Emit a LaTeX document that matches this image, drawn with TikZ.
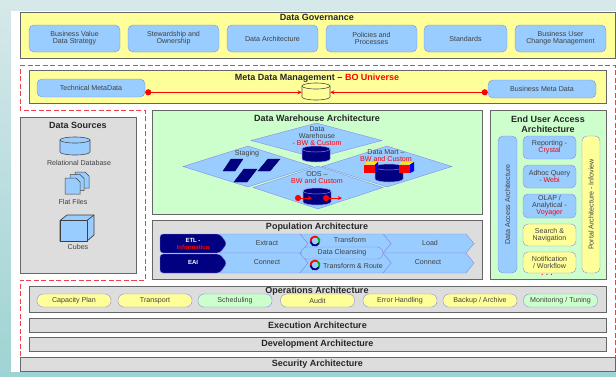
\documentclass[tikz,border=0pt]{standalone}
\usepackage{fontspec}
\setmainfont{Liberation Sans}
\usetikzlibrary{positioning, shapes, arrows}
\definecolor{skyfill}{HTML}{99CCFF}
\definecolor{skyline}{HTML}{8A8AE6}
\definecolor{paleyellow}{HTML}{FFFF99}
\definecolor{palegreen}{HTML}{CCFFCC}
\definecolor{panelgrey}{HTML}{DDDDDD}
\definecolor{panelline}{HTML}{666666}
\definecolor{deepnavy}{HTML}{000080}
\definecolor{dashred}{HTML}{F04050}
\definecolor{tealtop}{HTML}{D6E8EA}
\definecolor{tealbottom}{HTML}{9FD3D3}
\newcommand{\barrel}[5]{
	\draw [#5] (#1-#3,#2-#4) -- (#1-#3,#2+#4) arc (180:0:#3 and 3) -- (#1+#3,#2-#4) -- cycle;
	\draw [#5] (#1,#2-#4) ellipse (#3 and 3);
}
\begin{document}
\begin{tikzpicture}[x=1pt, y=-1pt]
	\tikzstyle{panel} = [rectangle, draw=panelline, line width=0.9pt, inner sep=0pt]
	\tikzstyle{greypanel} = [panel, fill=panelgrey]
	\tikzstyle{yellowpanel} = [panel, fill=paleyellow]
	\tikzstyle{greenpanel} = [panel, fill=palegreen]
	\tikzstyle{box} = [rectangle, draw=skyline, fill=skyfill, rounded corners=5pt, inner sep=0pt, align=center, text=black!75, font=\fontsize{7.1}{7}\selectfont]
	\tikzstyle{govbox} = [box, minimum width=91pt, minimum height=27pt]
	\tikzstyle{metabox} = [box, minimum width=108pt, minimum height=18pt]
	\tikzstyle{userbox} = [box, minimum width=53pt, minimum height=23pt]
	\tikzstyle{pill} = [box, rounded corners=6pt, fill=paleyellow, minimum width=74pt, minimum height=13pt]
	\tikzstyle{boxtitle} = [font=\bfseries\fontsize{9}{9.5}\selectfont, text=black!85, inner sep=0pt, align=center]
	\tikzstyle{caption} = [font=\fontsize{7.1}{7}\selectfont, text=black!75, inner sep=0pt, align=center]
	\tikzstyle{flat} = [diamond, draw=skyline, fill=skyfill, inner sep=0pt, aspect=1]
	\tikzstyle{lightdb} = [draw=black!70, fill=skyfill, line width=0.6pt]
	\tikzstyle{yellowdb} = [lightdb, fill=paleyellow]
	\tikzstyle{navydb} = [draw=skyline, fill=deepnavy, line width=0.5pt]
	\tikzstyle{chevron} = [draw=skyline, fill=skyfill]
	\tikzstyle{navychevron} = [draw=skyline, fill=deepnavy, rounded corners=3pt]
	\tikzstyle{arrow} = [red, line width=0.9pt, *->, >=stealth]
	\tikzstyle{sheet} = [draw=black!75, fill=skyfill, line width=0.5pt]
	\tikzstyle{block} = [draw=deepnavy!70!black, fill=deepnavy]

	\useasboundingbox (0,0) rectangle (616,376);
	\shade [top color=tealtop, bottom color=tealbottom] (0,0) rectangle (616,376);
	\fill [white] (11,11) rectangle (616,372);

	\draw [dashred, dash pattern=on 5pt off 2.5pt, line width=0.7pt] (20,65) -- (615,65) -- (615,358) -- (20,358) -- (20,280) -- (145,280) -- (145,110) -- (20,110) -- cycle;

	\node [yellowpanel, minimum width=595pt, minimum height=46pt] (governance) at (317.5,35) {};
	\node [boxtitle] (governancetitle) at (317,17.5) {Data Governance};
	\node [govbox] (strategy) at (74.5,38.5) {Business Value\\Data Strategy};
	\node [govbox] (stewardship) at (173.5,38.5) {Stewardship and\\Ownership};
	\node [govbox] (architecture) at (272.5,38.5) {Data Architecture};
	\node [govbox] (policies) at (371.5,38.5) {Policies and\\Processes};
	\node [govbox, minimum width=83pt] (standards) at (465.5,38.5) {Standards};
	\node [govbox] (change) at (560.5,38.5) {Business User\\Change Management};

	\node [yellowpanel, minimum width=577pt, minimum height=33pt] (metadata) at (317.5,87) {};
	\node [boxtitle] (metatitle) at (317,78) {Meta Data Management -- \textcolor{red}{BO Universe}};
	\node [metabox] (technical) at (91,88) {Technical MetaData};
	\node [metabox] (business) at (542,89) {Business Meta Data};
	\barrel{316}{91.5}{14}{5.5}{yellowdb}
	\node [inner sep=0pt, minimum width=28pt, minimum height=17pt] (universe) at (316,92.3) {};
	\draw [arrow] (technical.east |- universe.west) -- (universe.west);
	\draw [arrow] (business.west |- universe.east) -- (universe.east);

	\node [greypanel, minimum width=116pt, minimum height=156pt] (sources) at (78,195) {};
	\node [boxtitle] (sourcestitle) at (78,125.5) {Data Sources};
	\barrel{75}{146}{15}{6}{lightdb}
	\node [caption] (relationallabel) at (79,162.5) {Relational Database};
	\draw [sheet] (75,172) -- (85,172) -- (89,176) -- (89,188) -- (75,188) -- cycle;
	\draw [sheet] (70,174.5) -- (80,174.5) -- (84,178.5) -- (84,190.5) -- (70,190.5) -- cycle;
	\draw [sheet] (65,178) -- (76,178) -- (80,182) -- (80,194) -- (65,194) -- cycle;
	\node [caption] (flatlabel) at (73,201.5) {Flat Files};
	\draw [sheet, line width=0.7pt] (60,220.5) -- (67,215) -- (94,215) -- (94,235) -- (87,241) -- (60,241) -- cycle;
	\draw [sheet, line width=0.7pt] (60,220.5) rectangle (87,241);
	\draw [sheet, line width=0.7pt] (87,220.5) -- (94,215);
	\node [caption] (cubeslabel) at (78,246.5) {Cubes};

	\node [greenpanel, minimum width=330pt, minimum height=104pt] (warehouse) at (317.5,162) {};
	\node [boxtitle] (warehousetitle) at (317,118) {Data Warehouse Architecture};
	\node [flat, minimum width=131pt, minimum height=35pt] (topflat) at (316.5,140.5) {};
	\node [flat, minimum width=130pt, minimum height=41pt] (leftflat) at (248,166.5) {};
	\node [flat, minimum width=130pt, minimum height=41pt] (rightflat) at (387,166.5) {};
	\node [flat, minimum width=130pt, minimum height=43pt] (bottomflat) at (318,187.5) {};
	\node [caption] (dwlabel) at (317,136) {Data\\Warehouse\\\textcolor{red}{- BW \& Custom}};
	\barrel{316}{154}{14}{5}{navydb}
	\node [caption] (staginglabel) at (247,154) {Staging};
	\fill [block] (223,171) -- (235,171) -- (243,159) -- (231,159) -- cycle;
	\fill [block] (258,171) -- (270,171) -- (280,159) -- (268,159) -- cycle;
	\fill [block] (234,182) -- (247,182) -- (257,169) -- (244,169) -- cycle;
	\node [caption] (martlabel) at (386,155.5) {Data Mart --\\\textcolor{red}{BW and Custom}};
	\barrel{389}{173}{14}{6}{navydb}
	\fill [red] (364,164.5) rectangle (375,173);
	\fill [yellow!90!orange] (364,164.5) -- (367,162) -- (378,162) -- (375,164.5) -- cycle;
	\fill [blue] (375,164.5) -- (378,162) -- (378,171) -- (375,173) -- cycle;
	\fill [red] (399,164.5) rectangle (410,173);
	\fill [yellow!90!orange] (399,164.5) -- (402,162) -- (414,162) -- (410,164.5) -- cycle;
	\fill [blue] (410,164.5) -- (414,162) -- (414,171) -- (410,173) -- cycle;
	\node [caption] (odslabel) at (317,177.5) {ODS --\\\textcolor{red}{BW and Custom}};
	\barrel{317}{196.5}{14}{5.5}{navydb}
	\coordinate (odsinstart) at (295,198);
	\coordinate (odsinend) at (312,198);
	\coordinate (odsoutstart) at (323,198);
	\coordinate (odsoutend) at (342,198);
	\draw [arrow] (odsinstart) -- (odsinend);
	\draw [arrow] (odsoutstart) -- (odsoutend);

	\node [greypanel, minimum width=330pt, minimum height=59pt] (population) at (317.5,249.5) {};
	\node [boxtitle] (populationtitle) at (317,227.5) {Population Architecture};
	\draw [chevron] (220,234) -- (300,234) -- (308,243.5) -- (300,253) -- (220,253) -- cycle;
	\draw [chevron] (220,253) -- (300,253) -- (308,263) -- (300,273) -- (220,273) -- cycle;
	\draw [chevron] (383,234) -- (466,234) -- (474,243.5) -- (466,253) -- (383,253) -- (391,243.5) -- cycle;
	\draw [chevron] (383,253) -- (466,253) -- (474,263) -- (466,273) -- (383,273) -- (391,263) -- cycle;
	\draw [chevron] (300,234) -- (383,234) -- (391,243.5) -- (383,253) -- (300,253) -- (308,243.5) -- cycle;
	\draw [chevron] (300,253) -- (383,253) -- (391,263) -- (383,273) -- (300,273) -- (308,263) -- cycle;
	\draw [navychevron] (160,234) -- (220,234) -- (227,243.5) -- (220,253) -- (160,253) -- cycle;
	\draw [navychevron] (160,254) -- (220,254) -- (227,263) -- (220,273) -- (160,273) -- cycle;
	\node [box, rounded corners=6pt, minimum width=82pt, minimum height=12pt] (cleansing) at (342,253) {Data Cleansing};
	\node [caption, text=white, font=\bfseries\fontsize{6}{7}\selectfont] (etl) at (193,243.5) {ETL -\\\textcolor{red}{Informatica}};
	\node [caption, text=white, font=\bfseries\fontsize{6}{7}\selectfont] (eai) at (193,262.5) {EAI};
	\node [caption] (extract) at (267,243) {Extract};
	\node [caption] (connectin) at (267,262.5) {Connect};
	\node [caption] (transform) at (350,240) {Transform};
	\node [caption] (route) at (353,265.5) {Transform \& Route};
	\node [caption] (load) at (430,243) {Load};
	\node [caption] (connectout) at (428,262.5) {Connect};
	\draw [red, line width=1.8pt] (310.6,241.8) arc (170:300:4.5);
	\draw [green!70!black, line width=1.8pt] (317.25,237.1) arc (300:390:4.5);
	\draw [deepnavy, line width=1.8pt] (318.9,243.25) arc (30:170:4.5);
	\draw [red, line width=1.8pt] (310.6,265.8) arc (170:300:4.5);
	\draw [green!70!black, line width=1.8pt] (317.25,261.1) arc (300:390:4.5);
	\draw [deepnavy, line width=1.8pt] (318.9,267.25) arc (30:170:4.5);

	\node [greenpanel, minimum width=116pt, minimum height=169pt] (enduser) at (548,194.5) {};
	\node [boxtitle] (endusertitle) at (548,124.5) {End User Access\\Architecture};
	\node [box, minimum width=19pt, minimum height=137pt] (dataaccess) at (507.5,204.5) {};
	\node [caption, rotate=90] (dataaccesslabel) at (507.5,204.5) {Data Access Architecture};
	\node [box, fill=paleyellow, minimum width=18pt, minimum height=137pt] (portal) at (591,204.5) {};
	\node [caption, rotate=90] (portallabel) at (591,204.5) {Portal Architecture - Infoview};
	\node [userbox] (reporting) at (549.5,147.5) {Reporting -\\\textcolor{red}{Crystal}};
	\node [userbox] (adhoc) at (549.5,176.5) {Adhoc Query\\- \textcolor{red}{Webi}};
	\node [userbox, minimum height=24pt] (olap) at (549.5,206) {OLAP /\\Analytical -\\\textcolor{red}{Voyager}};
	\node [userbox, fill=paleyellow, minimum height=22pt] (search) at (549.5,235) {Search \&\\Navigation};
	\node [userbox, fill=paleyellow, minimum height=21pt] (notification) at (549.5,262.5) {Notification\\/ Workflow};
	\node [caption, text=red, font=\bfseries\fontsize{7}{8}\selectfont] (moredots) at (547,275) {. . .};

	\node [greypanel, minimum width=577pt, minimum height=26pt] (operations) at (317.5,299) {};
	\node [boxtitle] (operationstitle) at (317,291) {Operations Architecture};
	\node [pill] (capacity) at (74,300.5) {Capacity Plan};
	\node [pill] (transport) at (155,300.5) {Transport};
	\node [pill, fill=palegreen] (scheduling) at (235,300.5) {Scheduling};
	\node [pill] (audit) at (317.5,300.5) {Audit};
	\node [pill] (errors) at (400,300.5) {Error Handling};
	\node [pill] (backup) at (480,300.5) {Backup / Archive};
	\node [pill, fill=palegreen] (monitoring) at (560.5,300.5) {Monitoring / Tuning};

	\node [greypanel, minimum width=577pt, minimum height=14pt, boxtitle] (execution) at (317.5,325) {Execution Architecture};
	\node [greypanel, minimum width=577pt, minimum height=14pt, boxtitle] (development) at (317.5,344.5) {Development Architecture};
	\node [greypanel, minimum width=595pt, minimum height=14pt, boxtitle] (security) at (317.5,364) {Security Architecture};
\end{tikzpicture}
\end{document}
